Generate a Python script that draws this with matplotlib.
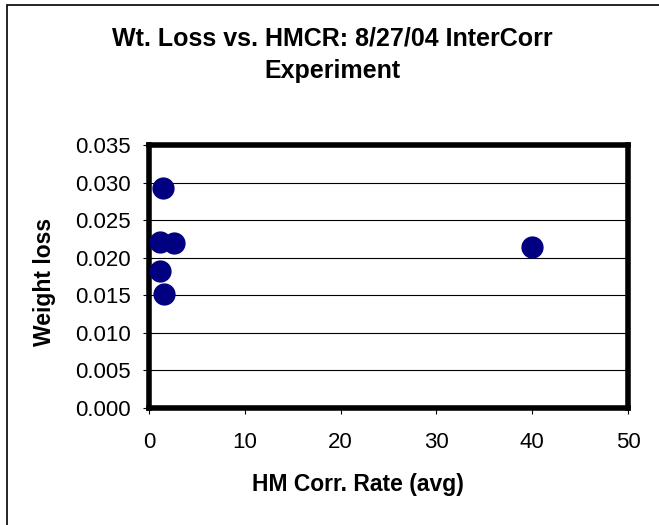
import matplotlib
matplotlib.use("Agg")
import matplotlib.pyplot as plt
from matplotlib.patches import Rectangle

plt.rcParams['font.family'] = ['Liberation Sans', 'DejaVu Sans']

hmcr = [1.5, 1.2, 2.6, 1.2, 1.6, 40.0]
weight_loss = [0.0293, 0.0221, 0.0220, 0.0182, 0.0152, 0.0214]
x_ticks = [0, 10, 20, 30, 40, 50]
y_ticks = [0.000, 0.005, 0.010, 0.015, 0.020, 0.025, 0.030, 0.035]

W, H = 659, 525
fig = plt.figure(figsize=(W/100, H/100), dpi=100)
ax = fig.add_axes([149/W, 1-408/H, (628-149)/W, (408-145)/H])

ax.set_xlim(0, 50)
ax.set_ylim(0, 0.035)
ax.set_xticks(x_ticks)
ax.set_yticks(y_ticks)
ax.set_yticklabels([f"{v:.3f}" for v in y_ticks])
ax.tick_params(axis='both', direction='out', length=4, width=0.8, labelsize=16, color='black')
ax.tick_params(axis='y', pad=9)
ax.tick_params(axis='x', pad=13)
ax.yaxis.grid(True, color='black', linewidth=0.8)
ax.set_axisbelow(True)
for s in ax.spines.values():
    s.set_linewidth(4)
    s.set_color('black')

ax.scatter(hmcr, weight_loss, s=15**2, color='#000080', zorder=3, clip_on=False)

fig.text(358/W, 1-484/H, "HM Corr. Rate (avg)", ha='center', va='center',
         fontsize=16.5, fontweight='bold')
fig.text(45/W, 1-282/H, "Weight loss", ha='center', va='center', rotation=90,
         fontsize=16.5, fontweight='bold')
fig.text(332/W, 1-46/H, "Wt. Loss vs. HMCR: 8/27/04 InterCorr",
         ha='center', va='baseline', fontsize=18, fontweight='bold')
fig.text(332/W, 1-78/H, "Experiment",
         ha='center', va='baseline', fontsize=18, fontweight='bold')

fig.patches.append(Rectangle((7/W, -0.1), 1.2, 1 - 5/H + 0.1, transform=fig.transFigure,
                             fill=False, edgecolor='black', linewidth=1.2))

fig.savefig("out.png", dpi=100)
